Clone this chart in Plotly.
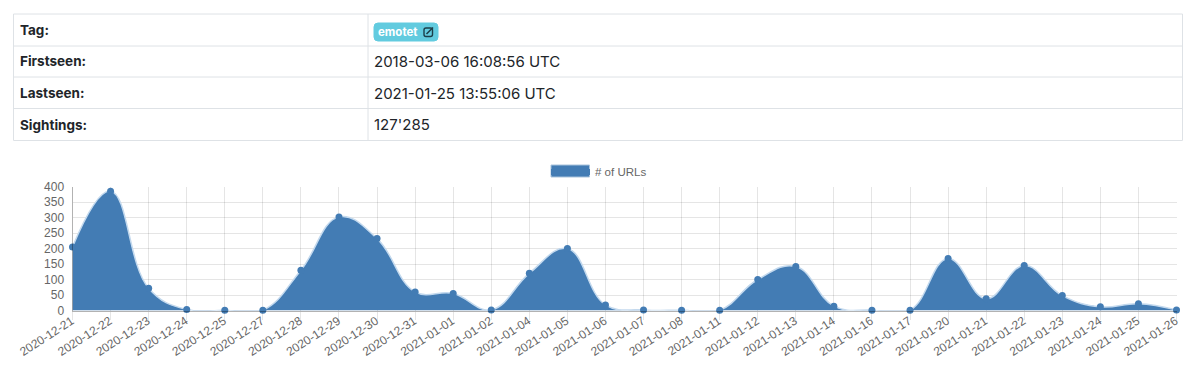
import plotly.graph_objects as go

# ---- data ----
dates = ["2020-12-21","2020-12-22","2020-12-23","2020-12-24","2020-12-25","2020-12-27","2020-12-28",
         "2020-12-29","2020-12-30","2020-12-31","2021-01-01","2021-01-02","2021-01-04","2021-01-05",
         "2021-01-06","2021-01-07","2021-01-08","2021-01-11","2021-01-12","2021-01-13","2021-01-14",
         "2021-01-16","2021-01-17","2021-01-20","2021-01-21","2021-01-22","2021-01-23","2021-01-24",
         "2021-01-25","2021-01-26"]
urls = [205,385,72,3,1,1,130,302,232,60,55,2,120,200,18,2,1,1,100,142,14,1,1,168,38,145,48,12,22,2]
y_ticks = [0,50,100,150,200,250,300,350,400]
row_labels = ["Tag:","Firstseen:","Lastseen:","Sightings:"]
row_values = ["","2018-03-06 16:08:56 UTC","2021-01-25 13:55:06 UTC","127'285"]
series_name = "# of URLs"
tag_name = "emotet"

W, H = 1200, 382
px = lambda v: v / W
py = lambda v: 1 - v / H

BLUE = "#437cb4"
TXT = "#212529"
BORDER = "#dee2e6"
GRID = "rgba(0,0,0,0.1)"
TABLE_FONT = "Inter, Roboto, sans-serif"
CHART_FONT = "Liberation Sans, Arial, sans-serif"

def rounded(x0, y0, x1, y1, r):
    return (f"M {px(x0+r)} {py(y0)} L {px(x1-r)} {py(y0)} Q {px(x1)} {py(y0)} {px(x1)} {py(y0+r)} "
            f"L {px(x1)} {py(y1-r)} Q {px(x1)} {py(y1)} {px(x1-r)} {py(y1)} "
            f"L {px(x0+r)} {py(y1)} Q {px(x0)} {py(y1)} {px(x0)} {py(y1-r)} "
            f"L {px(x0)} {py(y0+r)} Q {px(x0)} {py(y0)} {px(x0+r)} {py(y0)} Z")

def paper_line(x0, y0, x1, y1, color=BORDER, width=1, layer="below"):
    return dict(type="line", xref="paper", yref="paper", x0=px(x0), x1=px(x1), y0=py(y0), y1=py(y1),
                line=dict(color=color, width=width), layer=layer)

fig = go.Figure()

# area chart
fig.add_trace(go.Scatter(
    x=dates, y=urls, name=series_name, mode="lines+markers", fill="tozeroy",
    fillcolor=BLUE, line=dict(shape="spline", smoothing=1.2, color="#c3d9ee", width=1.5),
    marker=dict(size=7, color=BLUE, line=dict(width=0)),
    cliponaxis=False, showlegend=False,
))
# legend entry: a filled swatch without the line and marker glyphs
fig.add_trace(go.Scatter(
    x=[None], y=[None], name=series_name, mode="lines", fill="toself",
    fillcolor=BLUE, line=dict(width=0, color=BLUE), showlegend=True,
))

TABLE_L, TABLE_R, TABLE_T, TABLE_B, COL = 13.5, 1182.5, 14, 140.5, 368
ROW_LINES = [46, 77, 108.5]
ROW_TEXT_Y = [30, 61.5, 93, 124.5]

shapes = [
    dict(type="rect", xref="paper", yref="paper", x0=px(TABLE_L), x1=px(TABLE_R), y0=py(TABLE_B), y1=py(TABLE_T),
         fillcolor="rgba(0,0,0,0)", line=dict(color=BORDER, width=1)),
    paper_line(COL, TABLE_T, COL, TABLE_B),
    *[paper_line(TABLE_L, y, TABLE_R, y) for y in ROW_LINES],
    dict(type="rect", xref="paper", yref="paper", x0=px(551), x1=px(589.5), y0=py(177), y1=py(165),
         fillcolor=BLUE, line=dict(color="#a9c3dc", width=1)),
    dict(type="path", xref="paper", yref="paper", path=rounded(374, 23, 438, 41, 4),
         fillcolor="#62cbdf", line=dict(color="#62cbdf", width=1), layer="above"),
    dict(type="path", xref="paper", yref="paper", path=rounded(424, 28, 432.5, 36.5, 2),
         fillcolor="rgba(0,0,0,0)", line=dict(color="#1c3f4a", width=1.4), layer="above"),
    paper_line(426.5, 34, 433, 27.5, color="#1c3f4a", width=1.6, layer="above"),
]
annotations = [
    dict(text=f"<b>{tag_name}</b>", xref="paper", yref="paper", x=px(376.5), y=py(32), xanchor="left",
         yanchor="middle", showarrow=False, font=dict(family=TABLE_FONT, size=11.5, color="white")),
]
for label, value, y in zip(row_labels, row_values, ROW_TEXT_Y):
    annotations.append(dict(text=f"<b>{label}</b>", xref="paper", yref="paper", x=px(18), y=py(y),
                            xanchor="left", yanchor="middle", showarrow=False,
                            font=dict(family=TABLE_FONT, size=13.5, color=TXT)))
    if value:
        annotations.append(dict(text=value, xref="paper", yref="paper", x=px(371.5), y=py(y),
                                xanchor="left", yanchor="middle", showarrow=False,
                                font=dict(family=TABLE_FONT, size=15, color=TXT)))

fig.update_layout(
    width=W, height=H, margin=dict(l=0, r=0, t=0, b=0), template="none",
    paper_bgcolor="white", plot_bgcolor="white",
    font=dict(family=CHART_FONT, size=12, color="#666666"),
    shapes=shapes, annotations=annotations, showlegend=True,
    legend=dict(orientation="h", x=px(546), y=py(171), xanchor="left", yanchor="middle",
                itemwidth=39, bgcolor="rgba(0,0,0,0)", font=dict(family=CHART_FONT, size=11.5, color="#666666")),
    xaxis=dict(domain=[px(72.5), px(1176.5)], type="category", categoryorder="array", categoryarray=dates,
               range=[0, len(dates) - 1], tickangle=-33, tickmode="array", tickvals=dates, ticktext=dates,
               automargin=False, showgrid=True, gridcolor=GRID, gridwidth=1, zeroline=False,
               ticks="outside", ticklen=8, tickcolor=GRID, ticklabelstandoff=-10, ticklabelshift=-1,
               showline=True, linecolor="rgba(0,0,0,0.3)", linewidth=1,
               tickfont=dict(size=12, color="#666666")),
    yaxis=dict(domain=[py(310.5), py(186.5)], range=[0, 400], tickmode="array", tickvals=y_ticks,
               automargin=False, showgrid=True, gridcolor=GRID, gridwidth=1, zeroline=False,
               showline=True, linecolor="rgba(0,0,0,0.3)", linewidth=1,
               ticks="", ticklabelstandoff=5, tickfont=dict(size=12, color="#666666")),
)

fig.write_html("out.html", config=dict(displayModeBar=False),
               post_script="document.body.style.margin='0';document.body.style.overflow='hidden';")
